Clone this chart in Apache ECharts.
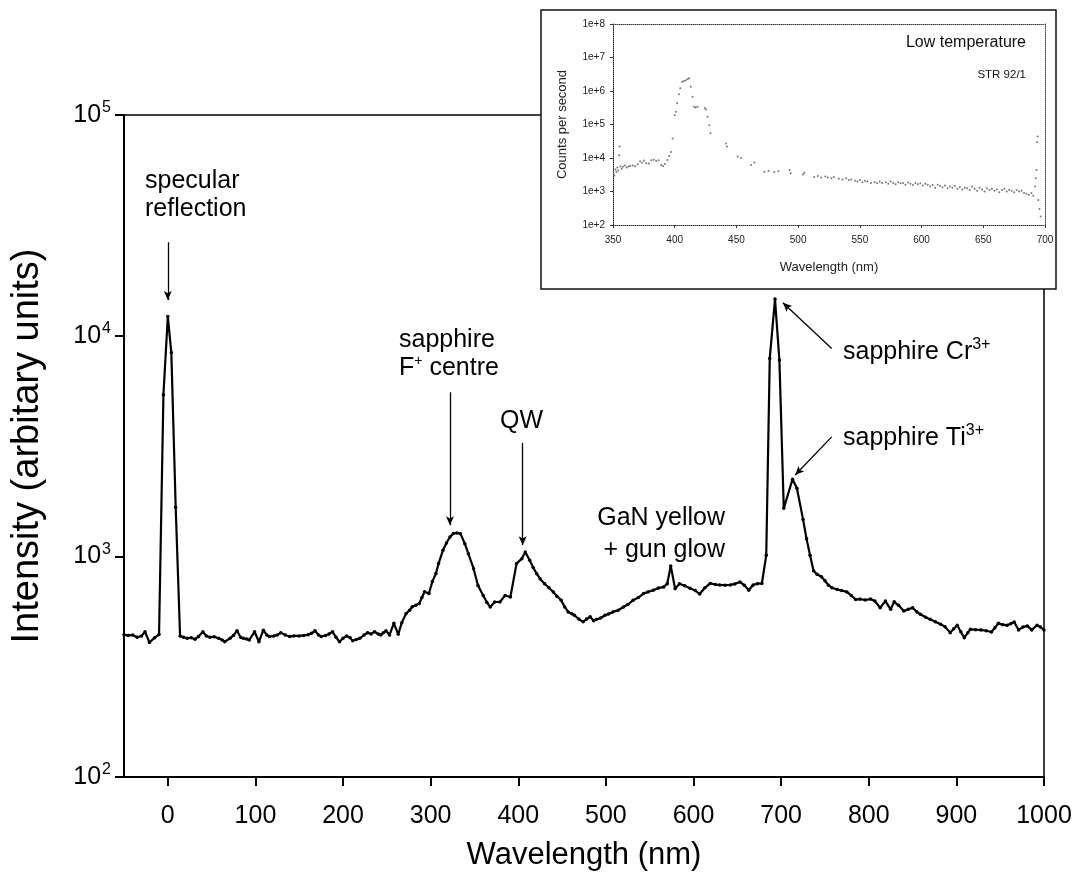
<!DOCTYPE html>
<html>
<head>
<meta charset="utf-8">
<script src="https://cdn.jsdelivr.net/npm/echarts@6/dist/echarts.min.js"></script>
<style>
  html, body { margin: 0; padding: 0; background: #fff; }
  #chart { width: 1082px; height: 886px; }
</style>
</head>
<body>
<div id="chart"></div>
<script>
// Cathodoluminescence spectrum, wavelength (nm) vs intensity (arbitrary units)
const wavelength = [
  -50, -45, -40, -35, -30, -26, -21, -15, -10, -5, 0, 4, 9, 14, 18, 22, 27, 31, 35, 40,
  44, 48, 53, 58, 62, 65, 71, 75, 79, 83, 86, 90, 93, 99, 104, 109, 113, 116, 121, 125,
  129, 134, 139, 144, 150, 155, 160, 164, 168, 172, 175, 180, 184, 188, 192, 196, 200, 204, 208, 211,
  215, 219, 224, 228, 232, 236, 240, 243, 246, 249, 253, 258, 263, 267, 272, 276, 279, 283, 287, 290,
  293, 298, 302, 306, 309, 314, 318, 322, 326, 330, 334, 339, 343, 349, 354, 360, 364, 368, 373, 379,
  385, 391, 398, 404, 408, 413, 417, 421, 425, 430, 435, 440, 444, 449, 453, 457, 461, 464, 469, 474,
  478, 482, 486, 489, 494, 499, 503, 508, 514, 520, 525, 531, 537, 543, 548, 554, 560, 566, 570, 574,
  579, 584, 590, 596, 602, 607, 613, 619, 625, 630, 636, 642, 647, 653, 658, 663, 668, 673, 678, 683,
  687, 693, 698, 703, 713, 718, 725, 729, 733, 737, 741, 746, 750, 754, 758, 764, 769, 775, 780, 785,
  790, 796, 802, 807, 813, 819, 825, 829, 834, 840, 845, 850, 855, 859, 865, 870, 876, 882, 887, 893,
  897, 901, 905, 909, 913, 916, 922, 928, 934, 940, 944, 948, 953, 958, 962, 966, 971, 976, 981, 986,
  992, 996, 1000
];
const intensity = [
  441, 438, 440, 430, 436, 455, 407, 428, 442, 5400, 12200, 8400, 1670, 436, 430, 425, 428, 421, 433, 455,
  436, 430, 432, 425, 418, 410, 425, 438, 460, 430, 425, 422, 418, 455, 410, 463, 440, 433, 436, 440,
  451, 440, 433, 436, 436, 438, 441, 448, 460, 440, 433, 438, 445, 455, 430, 410, 425, 436, 428, 414,
  420, 425, 440, 451, 445, 455, 445, 440, 450, 460, 440, 497, 443, 500, 551, 570, 591, 600, 611, 650,
  691, 679, 770, 836, 927, 1065, 1150, 1224, 1270, 1276, 1267, 1141, 1028, 879, 738, 665, 620, 589, 621, 621,
  665, 654, 927, 976, 1047, 959, 890, 834, 790, 751, 720, 689, 660, 632, 590, 560, 550, 541, 520, 505,
  520, 532, 510, 517, 525, 541, 548, 560, 570, 589, 605, 632, 650, 678, 690, 702, 718, 727, 751, 905,
  713, 751, 735, 716, 700, 675, 720, 754, 745, 742, 740, 742, 750, 765, 740, 702, 742, 752, 753, 1011,
  7890, 14650, 7750, 1650, 2235, 2035, 1470, 1200, 1012, 860, 830, 808, 775, 740, 720, 707, 700, 690, 665, 637,
  640, 634, 640, 627, 585, 627, 575, 622, 600, 565, 575, 585, 560, 546, 530, 518, 505, 492, 480, 451,
  470, 487, 455, 428, 450, 467, 465, 464, 460, 454, 475, 497, 490, 487, 495, 504, 464, 478, 484, 464,
  487, 478, 464
];

// Low temperature spectrum (inset), counts per second
const insetWavelength = [
  351, 352, 352.8, 353.5, 354.2, 355, 355.4, 356, 357, 358, 359.5, 361, 362.5, 364, 366, 368, 370, 372, 373.5, 375,
  377, 379, 381, 383, 385, 387, 389, 390.5, 392, 394, 395.5, 397, 398.3, 400, 401, 402, 403.5, 404.5, 406, 407.5,
  409, 410.5, 411.7, 413, 414.4, 415.8, 417, 418.5, 424.5, 425.3, 426.6, 428, 429, 441.5, 442.3, 451, 453.7, 461.8, 464.5, 472.6,
  476, 480.7, 484, 493, 494, 503.8, 505, 513, 516, 518.6, 522, 524, 527, 529, 533, 536, 539, 541, 543, 546,
  548, 550, 552, 554, 556, 559, 562, 564, 566, 568, 571, 573, 575, 577, 579, 581, 583, 585, 587, 589,
  591, 593, 595, 597, 599, 601, 603, 605, 607, 609, 611, 613, 615, 617, 619, 621, 623, 625, 627, 629,
  631, 633, 635, 637, 639, 641, 643, 645, 647, 649, 651, 653, 655, 657, 659, 661, 663, 665, 667, 669,
  671, 673, 675, 677, 679, 681, 683, 685, 687, 689, 690.5, 692, 692.5, 693, 693.5, 694, 694.6, 695.5, 696.5
];
const insetCounts = [
  3000, 4500, 3800, 5200, 4200, 12000, 22000, 5600, 4800, 5500, 6000, 5200, 5600, 5800, 6000, 5700, 6500, 8000, 7200, 8400,
  7000, 6800, 8500, 8900, 8200, 8600, 6200, 5800, 6600, 8700, 11500, 15000, 38000, 190000, 240000, 430000, 800000, 1200000, 1900000, 2000000,
  2100000, 2300000, 2400000, 1350000, 670000, 340000, 320000, 340000, 310000, 280000, 170000, 95000, 55000, 27000, 22000, 11000, 10000, 6200, 7300, 3900,
  4100, 3800, 4000, 4400, 3500, 3200, 3600, 2700, 2900, 2600, 2800, 2600, 2500, 2700, 2400, 2300, 2500, 2200, 2300, 2100,
  2000, 2200, 1900, 2100, 2000, 1800, 1900, 1750, 2000, 1800, 1900, 1700, 2000, 1800, 1650, 1900, 1750, 1800, 1600, 1850,
  1700, 1550, 1800, 1650, 1750, 1500, 1700, 1600, 1400, 1550, 1300, 1600, 1450, 1350, 1500, 1250, 1400, 1300, 1450, 1200,
  1350, 1150, 1300, 1250, 1100, 1400, 1200, 1050, 1300, 1150, 1000, 1250, 1100, 1200, 1050, 1150, 950, 1100, 1200, 1000,
  1100, 1050, 950, 1100, 1000, 1050, 900, 850, 800, 900, 750, 1400, 2500, 4400, 30000, 44000, 560, 300, 180
];

const xTicks = [0, 100, 200, 300, 400, 500, 600, 700, 800, 900, 1000];
const insetXTicks = [350, 400, 450, 500, 550, 600, 650, 700];

const FONT = '"Liberation Sans", Arial, Helvetica, sans-serif';

const mainSeries = wavelength.map((w, i) => [w, intensity[i]]);
const insetSeries = insetWavelength.map((w, i) => [w, insetCounts[i]]);

const chart = echarts.init(document.getElementById('chart'), null, { renderer: 'canvas' });

const supLabel = {
  b: { fontSize: 25, fontFamily: FONT, color: '#000', lineHeight: 30 },
  s: { fontSize: 16, fontFamily: FONT, color: '#000', lineHeight: 30, verticalAlign: 'top', padding: [0, 0, 0, 1] }
};

const arrow = (x1, y1, x2, y2) => [{ coord: [x1, y1] }, { coord: [x2, y2] }];

chart.setOption({
  animation: false,
  backgroundColor: '#fff',
  grid: [
    { left: 124, right: 38, top: 115, bottom: 109, show: true, borderColor: '#000', borderWidth: 1.5, z: 0 },
    { left: 613, width: 432, top: 24, height: 201, z: 5 }
  ],
  xAxis: [
    {
      gridIndex: 0, type: 'value', min: -50, max: 1000,
      name: 'Wavelength (nm)', nameLocation: 'middle', nameGap: 63,
      nameTextStyle: { fontSize: 31, fontFamily: FONT, color: '#000' },
      axisLine: { onZero: false, lineStyle: { color: '#000', width: 2 } },
      axisTick: { inside: false, length: 9, lineStyle: { color: '#000', width: 2 }, customValues: xTicks },
      axisLabel: { margin: 27, fontSize: 25, fontFamily: FONT, color: '#000', customValues: xTicks, formatter: v => String(v) },
      splitLine: { show: false }
    },
    {
      gridIndex: 1, type: 'value', min: 350, max: 700, interval: 50, z: 6,
      name: 'Wavelength (nm)', nameLocation: 'middle', nameGap: 36,
      nameTextStyle: { fontSize: 13, fontFamily: FONT, color: '#222' },
      axisLine: { onZero: false, lineStyle: { color: '#333', width: 1, type: 'dotted' } },
      axisTick: { length: 3, lineStyle: { color: '#333', width: 1 } },
      axisLabel: { margin: 10, fontSize: 10, fontFamily: FONT, color: '#222', customValues: insetXTicks, formatter: v => String(v) },
      splitLine: { show: false }
    },
    {
      gridIndex: 1, type: 'value', min: 350, max: 700, position: 'top', z: 6,
      axisLine: { onZero: false, lineStyle: { color: '#444', width: 1, type: 'dotted' } },
      axisTick: { show: false }, axisLabel: { show: false }, splitLine: { show: false }
    }
  ],
  yAxis: [
    {
      gridIndex: 0, type: 'log', logBase: 10, min: 100, max: 100000,
      name: 'Intensity (arbitary units)', nameLocation: 'middle', nameGap: 77,
      nameTextStyle: { fontSize: 38, fontFamily: FONT, color: '#000' },
      axisLine: { onZero: false, lineStyle: { color: '#000', width: 2 } },
      axisTick: { inside: false, length: 9, lineStyle: { color: '#000', width: 2 } },
      axisLabel: {
        margin: 13,
        formatter: v => '{b|10}{s|' + Math.round(Math.log10(v)) + '}',
        rich: supLabel
      },
      splitLine: { show: false }, minorTick: { show: false }
    },
    {
      gridIndex: 1, type: 'log', logBase: 10, min: 100, max: 100000000, z: 6,
      name: 'Counts per second', nameLocation: 'middle', nameGap: 44,
      nameTextStyle: { fontSize: 13, fontFamily: FONT, color: '#222' },
      axisLine: { onZero: false, lineStyle: { color: '#222', width: 1, type: 'dotted' } },
      axisTick: { length: 3, lineStyle: { color: '#333', width: 1 } },
      axisLabel: {
        margin: 8, fontSize: 10, fontFamily: FONT, color: '#222',
        formatter: v => '1e+' + Math.round(Math.log10(v))
      },
      splitLine: { show: false }
    },
    {
      gridIndex: 1, type: 'log', logBase: 10, min: 100, max: 100000000, position: 'right', z: 6,
      axisLine: { onZero: false, lineStyle: { color: '#444', width: 1, type: 'dotted' } },
      axisTick: { show: false }, axisLabel: { show: false }, splitLine: { show: false }
    }
  ],
  series: [
    {
      type: 'line', xAxisIndex: 0, yAxisIndex: 0, data: mainSeries,
      symbol: 'circle', symbolSize: 3.5, showSymbol: true,
      lineStyle: { color: '#000', width: 2.2 },
      itemStyle: { color: '#000' },
      z: 3,
      markLine: {
        silent: true, animation: false,
        symbol: ['none', 'arrow'], symbolSize: [6, 9],
        lineStyle: { color: '#000', width: 1.3, type: 'solid' },
        label: { show: false },
        data: [
          arrow(0, 26500, 0, 14500),
          arrow(322, 5540, 322, 1383),
          arrow(405, 3266, 405, 1124),
          arrow(757.7, 8750, 702, 14090),
          arrow(757.7, 3480, 716, 2335)
        ]
      }
    },
    {
      type: 'scatter', xAxisIndex: 1, yAxisIndex: 1, data: insetSeries,
      symbol: 'circle', symbolSize: 2, itemStyle: { color: '#555' }, z: 7
    }
  ],
  graphic: [
    {
      type: 'rect', z: 1,
      shape: { x: 541, y: 10, width: 515, height: 279 },
      style: { fill: '#fff', stroke: '#111', lineWidth: 1.5 }
    },
    {
      type: 'text', z: 10, x: 1026, y: 43,
      style: { text: 'Low temperature', font: '16px ' + FONT, fill: '#111', align: 'right', verticalAlign: 'middle' }
    },
    {
      type: 'text', z: 10, x: 1026, y: 75,
      style: { text: 'STR 92/1', font: '11.5px ' + FONT, fill: '#111', align: 'right', verticalAlign: 'middle' }
    },
    {
      type: 'text', z: 10, x: 145, y: 195,
      style: { text: 'specular\nreflection', font: '25px ' + FONT, fill: '#000', lineHeight: 28, align: 'left', verticalAlign: 'middle' }
    },
    {
      type: 'text', z: 10, x: 399, y: 354,
      style: {
        text: '{a|sapphire}\n{a|F}{s|+}{a| centre}', align: 'left', verticalAlign: 'middle',
        rich: {
          a: { fontSize: 25, fontFamily: FONT, fill: '#000', lineHeight: 28 },
          s: { fontSize: 14, fontFamily: FONT, fill: '#000', lineHeight: 28, verticalAlign: 'top' }
        }
      }
    },
    {
      type: 'text', z: 10, x: 500, y: 421,
      style: { text: 'QW', font: '25px ' + FONT, fill: '#000', align: 'left', verticalAlign: 'middle' }
    },
    {
      type: 'text', z: 10, x: 725, y: 534,
      style: { text: 'GaN yellow\n+ gun glow', font: '25px ' + FONT, fill: '#000', lineHeight: 32, align: 'right', verticalAlign: 'middle' }
    },
    {
      type: 'text', z: 10, x: 843, y: 352,
      style: {
        text: '{a|sapphire Cr}{s|3+}', align: 'left', verticalAlign: 'middle',
        rich: {
          a: { fontSize: 25, fontFamily: FONT, fill: '#000', lineHeight: 30 },
          s: { fontSize: 16, fontFamily: FONT, fill: '#000', lineHeight: 30, verticalAlign: 'top' }
        }
      }
    },
    {
      type: 'text', z: 10, x: 843, y: 438,
      style: {
        text: '{a|sapphire Ti}{s|3+}', align: 'left', verticalAlign: 'middle',
        rich: {
          a: { fontSize: 25, fontFamily: FONT, fill: '#000', lineHeight: 30 },
          s: { fontSize: 16, fontFamily: FONT, fill: '#000', lineHeight: 30, verticalAlign: 'top' }
        }
      }
    }
  ]
});
</script>
</body>
</html>
